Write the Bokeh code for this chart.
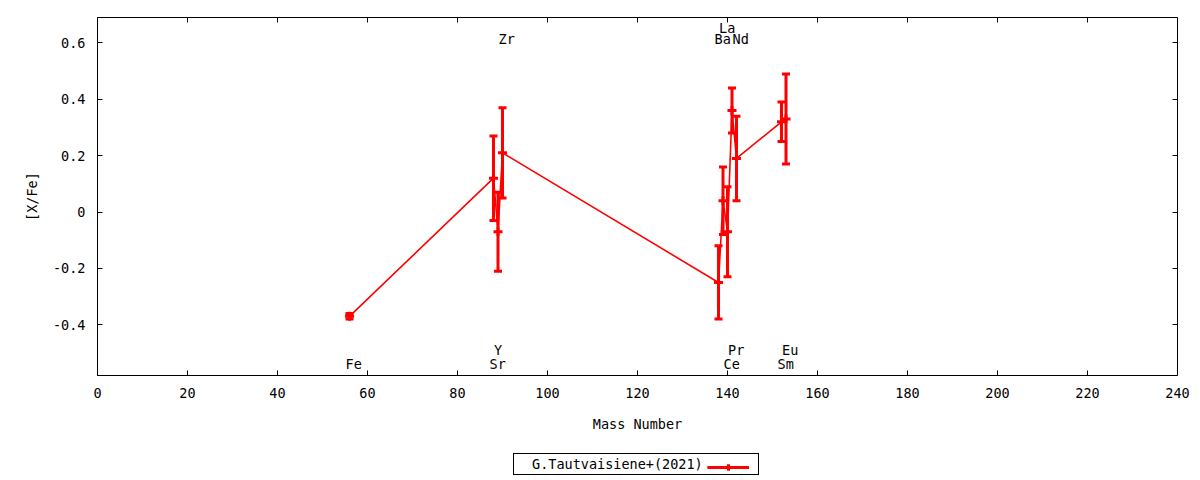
from bokeh.plotting import figure
from bokeh.layouts import column
from bokeh.models import (Range1d, FixedTicker, LinearAxis, CustomJSTickFormatter,
                          Legend, LegendItem, ColumnDataSource)
from bokeh.core.properties import value
from bokeh.embed import file_html
from bokeh.resources import INLINE

# ---------------- data ----------------
elements = ["Fe", "Sr", "Y", "Zr", "Ba", "La", "Ce", "Pr", "Nd", "Sm", "Eu"]
mass_number = [56, 88, 89, 90, 138, 139, 140, 141, 142, 152, 153]
x_fe = [-0.37, 0.12, -0.07, 0.21, -0.25, 0.04, -0.07, 0.36, 0.19, 0.32, 0.33]
x_fe_err = [0.01, 0.15, 0.14, 0.16, 0.13, 0.12, 0.16, 0.08, 0.15, 0.07, 0.16]
# element label row: 0 bottom-lower, 1 bottom-upper, 2 top-lower, 3 top-upper
label_row = [0, 0, 1, 2, 2, 3, 0, 1, 2, 0, 1]
x_ticks = [0, 20, 40, 60, 80, 100, 120, 140, 160, 180, 200, 220, 240]
y_ticks = [-0.4, -0.2, 0, 0.2, 0.4, 0.6]
series_name = "G.Tautvaisiene+(2021)"
x_title = "Mass Number"
y_title = "[X/Fe]"

FONT = "DejaVu Sans Mono"
FS = "13.5px"
RED = "#ff0000"

lo = [v - e for v, e in zip(x_fe, x_fe_err)]
hi = [v + e for v, e in zip(x_fe, x_fe_err)]

src = ColumnDataSource(dict(x=mass_number, y=x_fe, lo=lo, hi=hi))

p = figure(width=1200, height=440, output_backend="svg", toolbar_location=None,
           x_range=Range1d(0, 240),
           y_range=Range1d(min(lo) - 0.2, max(hi) + 0.2),
           min_border_left=97, min_border_right=23, min_border_top=17, min_border_bottom=65,
           x_axis_label=x_title, y_axis_label=y_title)

p.xgrid.visible = False
p.ygrid.visible = False
p.outline_line_color = "black"
p.outline_line_width = 1
p.outline_line_alpha = 1
p.background_fill_color = "white"
p.border_fill_color = "white"

for ax, ticks, code in ((p.xaxis[0], x_ticks, "return tick.toFixed(0)"),
                        (p.yaxis[0], y_ticks, "return Math.abs(tick) < 1e-9 ? '0' : tick.toFixed(1)")):
    ax.ticker = FixedTicker(ticks=ticks)
    ax.formatter = CustomJSTickFormatter(code=code)
    ax.axis_line_color = None
    ax.major_tick_in = 5
    ax.major_tick_out = 0
    ax.minor_tick_line_color = None
    ax.major_tick_line_color = "black"
    ax.major_label_text_font = FONT
    ax.major_label_text_font_size = FS
    ax.major_label_text_color = "black"
    ax.axis_label_text_font = FONT
    ax.axis_label_text_font_size = FS
    ax.axis_label_text_font_style = "normal"
    ax.axis_label_text_color = "black"
    ax.major_label_standoff = 12

p.xaxis[0].axis_label_standoff = 15
p.yaxis[0].axis_label_standoff = 10

# mirrored ticks on top and right (no labels drawn)
for loc, ticks in (("above", x_ticks), ("right", y_ticks)):
    ax = LinearAxis(ticker=FixedTicker(ticks=ticks))
    ax.axis_line_color = None
    ax.major_tick_in = 5
    ax.major_tick_out = 0
    ax.minor_tick_line_color = None
    ax.major_tick_line_color = "black"
    ax.major_label_standoff = 0
    ax.major_label_text_font_size = "1px"
    ax.major_label_text_color = None
    p.add_layout(ax, loc)

# data
line_style = dict(line_color=RED, line_width=1.6)
bar_style = dict(line_color=RED, line_width=3)
p.line("x", "y", source=src, **line_style)
p.segment(x0="x", y0="lo", x1="x", y1="hi", source=src, **bar_style)
p.scatter("x", "lo", source=src, marker="dash", size=8, **bar_style)
p.scatter("x", "hi", source=src, marker="dash", size=8, **bar_style)
p.scatter("x", "y", source=src, marker="cross", size=9, **bar_style)

# element labels
y0, y1 = p.y_range.start, p.y_range.end
row_place = {0: (y0, -12), 1: (y0, -26), 2: (y1, 21), 3: (y1, 10)}
for row, (yy, off) in row_place.items():
    idx = [i for i, r in enumerate(label_row) if r == row]
    s = ColumnDataSource(dict(x=[mass_number[i] for i in idx],
                              y=[yy] * len(idx),
                              t=[elements[i] for i in idx]))
    p.text("x", "y", text="t", source=s, x_offset=-4, y_offset=off,
           text_align="left", text_baseline="middle",
           text_font=value(FONT), text_font_size=FS, text_color="black")

# ---------------- key strip (gnuplot-style: text first, sample after) ----------------
k = figure(width=1200, height=40, output_backend="svg", toolbar_location=None,
           x_range=Range1d(1000, 1001), y_range=Range1d(1000, 1001),
           x_axis_type=None, y_axis_type=None,
           min_border=0, min_border_left=0, min_border_right=0,
           min_border_top=0, min_border_bottom=0)
k.xgrid.visible = False
k.ygrid.visible = False
k.outline_line_color = None
k.background_fill_color = "white"
k.border_fill_color = "white"

# key renderers share the series source; hidden in the strip, used only for the key sample
empty = ColumnDataSource(dict(x=[], y=[]))
k_blank = k.line("x", "y", source=empty, line_alpha=0)
k_line = k.line("x", "y", source=src, visible=False, **line_style)
k_seg = k.segment(x0="x", y0="lo", x1="x", y1="hi", source=src, visible=False, **bar_style)
k_pt = k.scatter("x", "y", source=src, marker="cross", size=9, visible=False, **bar_style)

key_text = Legend(items=[LegendItem(label=series_name, renderers=[k_blank])],
                  location=(416, 5), orientation="horizontal",
                  border_line_color="black", border_line_width=1, border_line_alpha=1,
                  background_fill_color="white", background_fill_alpha=1,
                  label_text_font=FONT, label_text_font_size=FS, label_text_color="black",
                  glyph_width=0, glyph_height=16, label_height=16, label_width=224,
                  label_standoff=16, padding=2, spacing=0, margin=0)
key_sample = Legend(items=[LegendItem(label="", renderers=[k_line, k_seg, k_pt])],
                    location=(610, 5), orientation="horizontal",
                    border_line_color=None, background_fill_alpha=0,
                    inactive_fill_alpha=0,
                    label_text_font=FONT, label_text_font_size=FS,
                    glyph_width=42, glyph_height=16, label_height=16, label_width=0,
                    label_standoff=0, padding=2, spacing=0, margin=0)
k.add_layout(key_text)
k.add_layout(key_sample)

page = column(p, k, spacing=0)
open("out.html", "w").write(file_html(page, INLINE))
